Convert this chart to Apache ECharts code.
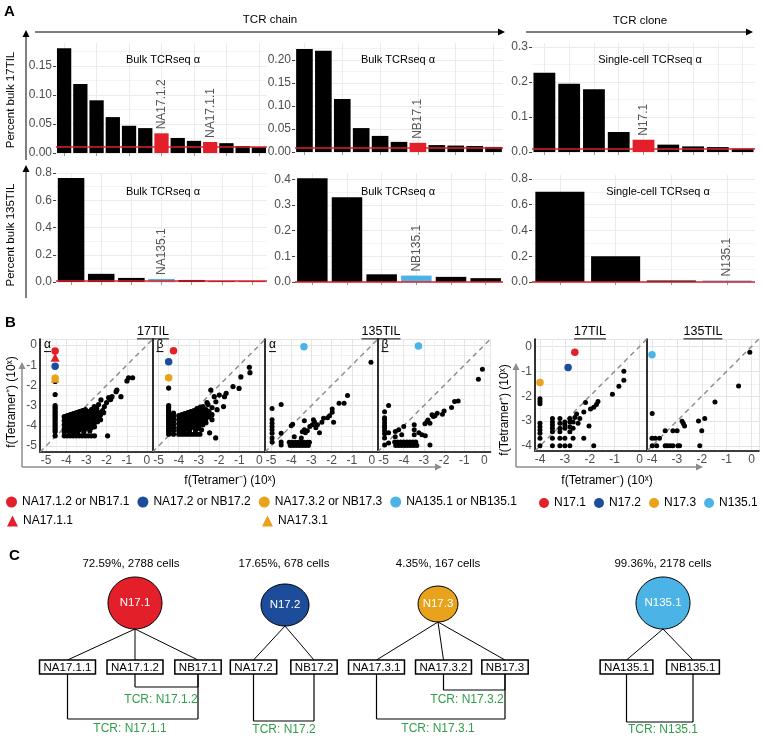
<!DOCTYPE html>
<html><head><meta charset="utf-8">
<script src="https://cdn.jsdelivr.net/npm/echarts@6/dist/echarts.min.js"></script>
<style>html,body{margin:0;padding:0;background:#fff}#c{width:763px;height:740px}</style>
</head><body><div id="c"></div>
<script>
// ---------------- DATA ----------------
// Panel A : clone frequencies (ranked)
const bulk17A = [0.181,0.119,0.091,0.062,0.047,0.043,0.034,0.026,0.021,0.019,0.017,0.012,0.010];
const bulk17ALabels = ['','','','','','','NA17.1.2','','','NA17.1.1','','',''];
const bulk17B = [0.224,0.220,0.115,0.052,0.035,0.022,0.020,0.015,0.014,0.013,0.011];
const bulk17BLabels = ['','','','','','','NB17.1','','','',''];
const sc17 = [0.226,0.195,0.179,0.057,0.035,0.021,0.016,0.014,0.010];
const sc17Labels = ['','','','','N17.1','','','',''];
const bulk135A = [0.763,0.060,0.030,0.022,0.015,0.006,0.005];
const bulk135ALabels = ['','','','NA135.1','','',''];
const bulk135B = [0.405,0.330,0.030,0.025,0.020,0.015];
const bulk135BLabels = ['','','','NB135.1','',''];
const sc135 = [0.700,0.200,0.012,0.012];
const sc135Labels = ['','','','N135.1'];
const aThresholds = [0.010,0.010,0.008,0.005,0.004,0.004];
const aTitles = ['Bulk TCRseq \u03b1','Bulk TCRseq \u03b1','Single-cell TCRseq \u03b1','Bulk TCRseq \u03b1','Bulk TCRseq \u03b1','Single-cell TCRseq \u03b1'];
const aHighlight = ['N17.1','N17.1','N17.1','N135.1','N135.1','N135.1'];
const aYMax = [0.19,0.237,0.311,0.8,0.425,0.83];
const aYTicks = [[0,0.05,0.10,0.15],[0,0.05,0.10,0.15,0.20],[0,0.1,0.2,0.3],[0,0.2,0.4,0.6,0.8],[0,0.1,0.2,0.3,0.4],[0,0.2,0.4,0.6,0.8]];
const aYDec = [2,2,1,1,1,1];

// Panel B : log10 frequencies [f(Tetramer-), f(Tetramer+)]
const b17Alpha = [
[-4.55,-1.8],[-4.55,-2.45],[-4.55,-3.0],[-4.55,-3.1],[-4.55,-3.2],[-4.55,-3.3],[-4.55,-3.4],[-4.55,-3.5],[-4.55,-3.6],[-4.55,-3.7],[-4.55,-3.8],[-4.55,-3.9],[-4.55,-4.0],[-4.55,-4.1],[-4.55,-4.2],[-4.55,-4.3],[-4.55,-4.5],
[-4.1,-4.5],[-3.95,-4.5],[-3.8,-4.5],[-3.65,-4.5],[-3.5,-4.5],[-3.35,-4.5],[-3.2,-4.5],[-3.05,-4.5],[-2.9,-4.5],[-2.75,-4.5],[-2.6,-4.5],[-1.95,-4.5],
[-4.1,-3.55],[-4.1,-3.75],[-4.1,-3.95],[-4.1,-4.15],[-4.1,-4.3],
[-3.95,-3.5],[-3.95,-3.7],[-3.95,-3.9],[-3.95,-4.05],[-3.95,-4.25],
[-3.8,-3.45],[-3.8,-3.65],[-3.8,-3.85],[-3.8,-4.0],[-3.8,-4.2],[-3.8,-4.35],
[-3.65,-3.4],[-3.65,-3.6],[-3.65,-3.8],[-3.65,-3.95],[-3.65,-4.1],[-3.65,-4.3],
[-3.5,-3.35],[-3.5,-3.55],[-3.5,-3.75],[-3.5,-3.9],[-3.5,-4.05],[-3.5,-4.25],
[-3.35,-3.3],[-3.35,-3.5],[-3.35,-3.7],[-3.35,-3.85],[-3.35,-4.0],[-3.35,-4.2],
[-3.2,-3.25],[-3.2,-3.45],[-3.2,-3.65],[-3.2,-3.8],[-3.2,-4.0],[-3.2,-4.15],
[-3.05,-3.2],[-3.05,-3.4],[-3.05,-3.6],[-3.05,-3.8],[-3.05,-3.95],[-3.05,-4.15],
[-2.9,-3.3],[-2.9,-3.5],[-2.9,-3.7],[-2.9,-3.9],[-2.9,-4.1],
[-2.75,-3.2],[-2.75,-3.45],[-2.75,-3.65],[-2.75,-3.9],[-2.75,-4.1],
[-2.6,-3.4],[-2.6,-3.6],[-2.6,-3.85],[-2.6,-4.05],
[-2.45,-3.3],[-2.45,-3.55],[-2.45,-3.8],[-2.3,-3.45],[-2.3,-3.7],[-2.15,-3.35],
[-4.02,-3.65],[-3.88,-3.8],[-3.72,-3.55],[-3.58,-3.7],[-3.42,-3.6],[-3.28,-3.4],[-3.12,-3.55],[-2.98,-3.45],[-2.82,-3.6],[-2.68,-3.3],[-3.58,-4.15],[-3.28,-4.1],[-2.98,-4.05],[-3.88,-4.15],[-4.02,-4.1],
[-4.03,-3.85],[-3.87,-3.6],[-3.73,-4.1],[-3.57,-3.45],[-3.43,-3.8],[-3.27,-3.9],[-3.13,-3.35],[-2.97,-3.75],[-2.83,-3.35],[-2.67,-3.75],[-2.52,-3.45],[-2.38,-3.6],[-3.43,-4.35],[-3.13,-4.3],[-2.83,-4.25],
[-2.61,-3.05],[-2.49,-3.13],[-2.28,-2.72],[-2.11,-3.05],[-1.9,-2.61],[-1.73,-2.56],[-1.53,-2.31],[-1.49,-2.23],[-1.29,-2.56],[-0.99,-1.78],[-0.91,-1.62],[-0.71,-1.62],[-2.4,-2.95],[-2.2,-3.25],[-2.0,-2.85],[-2.7,-3.2],[-2.35,-3.4],[-1.8,-2.7]
];
const b17AlphaHi = [['NA17.1.2 or NB17.1',-4.55,-0.3],['NA17.1.1',-4.55,-0.6],['NA17.2 or NB17.2',-4.55,-1.05],['NA17.3.2 or NB17.3',-4.55,-1.65],['NA17.3.1',-4.55,-1.65]];

const b17Beta = [
[-4.5,-2.13],[-4.5,-3.0],[-4.5,-3.1],[-4.5,-3.2],[-4.5,-3.3],[-4.5,-3.4],[-4.5,-3.5],[-4.5,-3.6],[-4.5,-3.7],[-4.5,-3.8],[-4.5,-3.9],[-4.5,-4.0],[-4.5,-4.1],[-4.5,-4.2],[-4.5,-4.3],[-4.5,-4.42],
[-4.26,-3.37],[-4.26,-3.5],[-4.26,-3.65],[-4.26,-3.8],[-4.26,-3.95],[-4.26,-4.1],[-4.26,-4.25],[-4.26,-4.42],
[-4.0,-4.42],[-3.85,-4.42],[-3.7,-4.42],[-3.55,-4.42],[-3.4,-4.42],[-3.25,-4.42],[-3.1,-4.42],[-2.95,-4.42],[-2.47,-4.35],[-2.17,-4.6],
[-4.0,-3.5],[-4.0,-3.7],[-4.0,-3.9],[-4.0,-4.1],[-4.0,-4.25],
[-3.85,-3.45],[-3.85,-3.65],[-3.85,-3.85],[-3.85,-4.05],[-3.85,-4.2],
[-3.7,-3.4],[-3.7,-3.6],[-3.7,-3.8],[-3.7,-4.0],[-3.7,-4.2],
[-3.55,-3.35],[-3.55,-3.55],[-3.55,-3.75],[-3.55,-3.95],[-3.55,-4.15],
[-3.4,-3.3],[-3.4,-3.5],[-3.4,-3.7],[-3.4,-3.9],[-3.4,-4.1],
[-3.25,-3.25],[-3.25,-3.45],[-3.25,-3.65],[-3.25,-3.85],[-3.25,-4.05],
[-3.1,-3.15],[-3.1,-3.35],[-3.1,-3.55],[-3.1,-3.75],[-3.1,-3.95],[-3.1,-4.15],
[-2.95,-3.1],[-2.95,-3.3],[-2.95,-3.5],[-2.95,-3.7],[-2.95,-3.9],
[-2.8,-3.05],[-2.8,-3.25],[-2.8,-3.45],[-2.8,-3.7],[-2.8,-3.95],
[-2.65,-3.2],[-2.65,-3.4],[-2.65,-3.65],[-2.65,-3.85],
[-2.5,-3.3],[-2.5,-3.55],[-2.35,-3.45],[-2.35,-3.7],
[-3.92,-3.6],[-3.78,-3.75],[-3.62,-3.5],[-3.48,-3.65],[-3.32,-3.4],[-3.18,-3.6],[-3.02,-3.4],[-2.88,-3.6],[-2.72,-3.35],[-3.62,-4.1],[-3.32,-4.0],[-3.02,-4.05],
[-3.93,-3.8],[-3.77,-3.95],[-3.63,-3.7],[-3.47,-3.85],[-3.33,-3.6],[-3.17,-3.8],[-3.03,-3.6],[-2.87,-3.8],[-2.73,-3.55],[-2.58,-3.4],[-3.47,-4.25],[-3.17,-4.25],[-2.87,-4.2],
[-2.41,-2.23],[-2.24,-2.56],[-2.16,-2.81],[-1.99,-2.48],[-1.73,-2.56],[-1.65,-2.39],[-1.78,-3.05],[-1.31,-2.06],[-1.01,-2.15],[-0.92,-1.58],[-0.5,-1.1],[-0.47,-1.37],[-2.55,-2.95],[-2.35,-3.1],[-2.1,-3.2],[-2.6,-2.85]
];
const b17BetaHi = [['NA17.1.2 or NB17.1',-4.26,-0.28],['NA17.2 or NB17.2',-4.5,-0.83],['NA17.3.2 or NB17.3',-4.5,-1.62]];

const b135Alpha = [
[-0.05,-0.85],[-4.95,-3.15],[-4.5,-2.95],
[-4.95,-3.7],[-4.95,-3.87],[-4.95,-4.04],[-4.95,-4.2],[-4.95,-4.37],[-4.95,-4.6],[-4.95,-4.8],
[-4.5,-4.37],[-4.5,-4.8],[-4.5,-4.95],[-4.0,-4.0],[-3.93,-3.93],[-3.85,-4.55],
[-4.1,-4.82],[-3.95,-4.82],[-3.8,-4.82],[-3.65,-4.82],[-3.5,-4.82],[-3.35,-4.82],[-3.2,-4.82],[-3.1,-4.82],
[-4.05,-4.98],[-3.9,-4.98],[-3.75,-4.98],[-3.6,-4.98],[-3.45,-4.98],[-3.3,-4.98],[-3.15,-4.98],
[-3.35,-3.75],[-3.45,-4.3],[-3.35,-4.2],[-3.3,-4.35],[-3.2,-4.25],[-3.5,-4.6],
[-3.08,-4.04],[-2.95,-3.95],[-2.78,-4.1],[-2.7,-3.95],[-2.48,-3.83],[-2.4,-3.63],[-2.6,-4.35],[-2.9,-3.7],[-2.85,-3.8],
[-2.2,-3.6],[-2.1,-3.5],[-1.97,-3.33],[-1.97,-3.17],[-1.9,-3.83],[-1.63,-2.89],[-1.38,-2.89],[-1.21,-2.5]
];
const b135AlphaHi = [['NA135.1 or NB135.1',-3.37,-0.08]];

const b135Beta = [
[-0.1,-1.2],[-0.3,-1.7],[-4.75,-3.0],[-4.95,-3.3],
[-4.95,-3.6],[-4.95,-3.7],[-4.95,-3.85],[-4.95,-4.0],[-4.95,-4.1],[-4.95,-4.25],[-4.95,-4.4],[-4.95,-4.6],[-4.95,-4.95],
[-4.75,-4.35],[-4.75,-4.85],
[-4.45,-4.8],[-4.3,-4.8],[-4.15,-4.8],[-4.0,-4.8],[-3.85,-4.8],[-3.7,-4.8],[-3.55,-4.8],[-3.4,-4.8],
[-4.4,-4.98],[-4.25,-4.98],[-4.1,-4.98],[-3.95,-4.98],[-3.8,-4.98],[-3.65,-4.98],[-3.5,-4.98],[-3.35,-4.98],
[-4.42,-4.29],[-4.25,-4.2],[-4.0,-4.04],[-4.1,-4.45],[-4.42,-4.55],
[-3.48,-3.95],[-3.48,-4.2],[-3.48,-4.45],[-3.25,-4.35],[-3.1,-4.45],[-2.93,-4.5],[-2.7,-4.95],
[-2.8,-3.71],[-2.7,-3.87],[-2.6,-3.46],[-2.53,-3.54],[-2.45,-3.5],[-2.34,-3.38],[-2.08,-3.43],[-2.0,-3.27],[-1.63,-3.1],[-1.48,-2.8],[-1.3,-2.77],[-2.95,-3.9],[-2.85,-3.8]
];
const b135BetaHi = [['NA135.1 or NB135.1',-3.27,-0.05]];

const b17Clone = [
[-4,-2.1],[-4,-2.2],[-4,-2.3],[-4,-3.09],[-4,-3.23],[-4,-3.36],[-4,-3.49],[-4,-3.69],[-4,-3.99],
[-3.5,-2.89],[-3.5,-3.03],[-3.5,-3.16],[-3.5,-3.29],[-3.5,-3.43],[-3.5,-3.69],[-3.5,-3.99],
[-3.2,-2.89],[-3.2,-3.09],[-3.2,-3.29],[-3.2,-3.43],[-3.2,-3.69],[-3.2,-3.99],
[-3.0,-3.03],[-3.0,-3.16],[-3.0,-3.29],[-3.0,-3.69],[-3.0,-3.99],
[-2.8,-2.89],[-2.8,-3.03],[-2.8,-3.23],[-2.8,-3.43],[-2.8,-3.99],
[-2.67,-3.03],[-2.67,-3.29],[-2.67,-3.69],
[-2.4,-2.89],[-2.47,-3.09],[-2.03,-3.2],[-2.24,-3.69],[-1.84,-3.99],
[-2.24,-2.63],[-2.17,-2.25],[-1.97,-2.51],[-1.84,-2.44],[-1.73,-2.33],[-1.67,-2.21],[-1.09,-1.92],[-0.83,-1.6],[-0.63,-1.36],[-0.63,-1.0],
[-2.53,-2.71],[-2.6,-2.85]
];
const b17CloneHi = [['N17.1',-2.6,-0.23],['N17.2',-2.87,-0.85],['N17.3',-4.0,-1.45]];

const b135Clone = [
[-0.07,-0.23],[-0.52,-1.59],[-1.47,-2.23],[-1.88,-2.89],[-2.13,-2.99],[-2.0,-3.39],[-2.08,-3.99],
[-2.79,-3.0],[-2.74,-3.1],[-2.69,-3.2],[-3.16,-3.39],[-2.99,-3.39],[-3.47,-3.39],
[-3.99,-2.69],[-4.0,-3.69],[-3.87,-3.69],[-3.7,-3.69],
[-3.99,-3.99],[-3.81,-3.99],[-3.47,-3.99],[-3.38,-3.99],[-3.27,-3.99],[-3.16,-3.99],[-2.96,-3.99],[-2.89,-3.99]
];
const b135CloneHi = [['N135.1',-4.0,-0.33]];

// Panel C : clone -> chains -> paired TCRs
const cClones = ['N17.1','N17.2','N17.3','N135.1'];
const cPercent = ['72.59%','17.65%','4.35%','99.36%'];
const cCells = [2788,678,167,2178];
const cChains = [['NA17.1.1','NA17.1.2','NB17.1'],['NA17.2','NB17.2'],['NA17.3.1','NA17.3.2','NB17.3'],['NA135.1','NB135.1']];
const cTcrs = [['N17.1.2','N17.1.1'],['N17.2'],['N17.3.2','N17.3.1'],['N135.1']];
const cTcrPairs = [[[1,2],[0,2]],[[0,1]],[[1,2],[0,2]],[[0,1]]];

// ---------------- STYLE / LAYOUT ----------------
const FONT = "'Liberation Sans', Arial, Helvetica, sans-serif";
const RED='#E3202A', BLUE='#1C4C9A', ORANGE='#E8A21B', LBLUE='#4BB3E6', GREEN='#2F9F4A';
const cloneColor = {'N17.1':RED,'N17.2':BLUE,'N17.3':ORANGE,'N135.1':LBLUE};
const nameColor = {'NA17.1.2 or NB17.1':RED,'NA17.1.1':RED,'NA17.2 or NB17.2':BLUE,'NA17.3.2 or NB17.3':ORANGE,'NA17.3.1':ORANGE,'NA135.1 or NB135.1':LBLUE,'N17.1':RED,'N17.2':BLUE,'N17.3':ORANGE,'N135.1':LBLUE};
const triNames = ['NA17.1.1','NA17.3.1'];

const barGrids = [
 {left:56, top:43, width:211, height:110},
 {left:295, top:43, width:208, height:109},
 {left:532, top:43, width:223, height:109},
 {left:56, top:173, width:211, height:109},
 {left:295, top:173, width:208, height:109},
 {left:532, top:175, width:223, height:107}
];
const aTitlePos = [[163,60],[398,60],[650,60],[163,192],[398,192],[658,192]];
const barSets = [[bulk17A,bulk17ALabels],[bulk17B,bulk17BLabels],[sc17,sc17Labels],[bulk135A,bulk135ALabels],[bulk135B,bulk135BLabels],[sc135,sc135Labels]];

const scatGrids = [
 {left:40, top:339, width:113, height:113, lo:-5.3, hi:0.3, ylab:true, ps:5.2},
 {left:152.5, top:339, width:113, height:113, lo:-5.3, hi:0.3, ylab:false, ps:5.2},
 {left:265, top:339, width:113, height:113, lo:-5.3, hi:0.3, ylab:false, ps:5},
 {left:377.5, top:339, width:113, height:113, lo:-5.3, hi:0.3, ylab:false, ps:5},
 {left:535, top:339, width:112, height:112, lo:-4.2, hi:0.3, ylab:true, ps:5},
 {left:647, top:339, width:112, height:112, lo:-4.2, hi:0.3, ylab:false, ps:5}
];
const scatSets = [[b17Alpha,b17AlphaHi],[b17Beta,b17BetaHi],[b135Alpha,b135AlphaHi],[b135Beta,b135BetaHi],[b17Clone,b17CloneHi],[b135Clone,b135CloneHi]];

const grid=[], xAxis=[], yAxis=[], series=[];

barSets.forEach(([vals,labels],i)=>{
  const g = barGrids[i];
  grid.push({left:g.left, top:g.top, width:g.width, height:g.height});
  const cats = vals.map((v,j)=>'r'+(j+1));
  const ticks = aYTicks[i], dec = aYDec[i];
  const isTick = v => ticks.some(t=>Math.abs(t-v)<1e-9);
  xAxis.push({type:'category', gridIndex:i, data:cats, boundaryGap:true,
    axisLine:{show:false}, axisLabel:{show:false},
    axisTick:{show:true, alignWithLabel:true, length:3, lineStyle:{color:'#999'}},
    splitLine:{show:true, alignWithLabel:true, lineStyle:{color:'#EBEBEB'}}});
  yAxis.push({type:'value', gridIndex:i, min:0, max:aYMax[i], interval:ticks[1],
    axisLine:{show:false},
    axisTick:{show:true, length:3, customValues:ticks, lineStyle:{color:'#444'}},
    axisLabel:{color:'#4D4D4D', fontSize:12, fontFamily:FONT, margin:4, customValues:ticks,
      formatter:v=>isTick(v) ? v.toFixed(dec) : ''},
    splitLine:{lineStyle:{color:'#EBEBEB'}},
    minorTick:{show:false, splitNumber:2}, minorSplitLine:{show:true, lineStyle:{color:'#F4F4F4'}}});
  series.push({type:'bar', xAxisIndex:i, yAxisIndex:i, barCategoryGap:'12%', z:2,
    data: vals.map((v,j)=>({value:v, itemStyle:{color: labels[j] ? cloneColor[aHighlight[i]] : '#000'},
      label:{show: !!labels[j], formatter: labels[j]}})),
    label:{position:'top', rotate:90, align:'left', verticalAlign:'middle', distance:4, color:'#555', fontSize:12, fontFamily:FONT},
    markLine:{silent:true, symbol:['none','none'], label:{show:false}, lineStyle:{color:RED, width:1.6, type:'solid'},
      data:[{yAxis:aThresholds[i]}]}
  });
});

const intFmt = v => Math.abs(v-Math.round(v))<1e-6 ? String(Math.round(v)) : '';
scatSets.forEach(([pts,hi],k)=>{
  const i = k+6, g = scatGrids[k];
  grid.push({left:g.left, top:g.top, width:g.width, height:g.height});
  const ax = (show)=>({type:'value', gridIndex:i, min:g.lo, max:g.hi, splitNumber:5,
    axisLine:{show:true, onZero:false, lineStyle:{color:'#000', width:1.6}},
    axisTick:{show:false},
    axisLabel:{show:show, color:'#4D4D4D', fontSize:12, fontFamily:FONT, margin:3, formatter:intFmt},
    splitLine:{lineStyle:{color:'#E4E4E4'}},
    minorTick:{show:false, splitNumber:2}, minorSplitLine:{show:true, lineStyle:{color:'#F1F1F1'}}});
  xAxis.push(ax(true));
  yAxis.push(ax(g.ylab));
  series.push({type:'scatter', xAxisIndex:i, yAxisIndex:i, data:pts, symbolSize:g.ps, itemStyle:{color:'#000', opacity:1}, z:3,
    markLine:{silent:true, symbol:['none','none'], label:{show:false}, z:2,
      lineStyle:{color:'#8A8A8A', width:1.4, type:[5,4]},
      data:[[{coord:[g.lo,g.lo]},{coord:[g.hi,g.hi]}]]}});
  hi.forEach(([name,x,y])=>{
    const tri = triNames.includes(name);
    series.push({type:'scatter', name, xAxisIndex:i, yAxisIndex:i, data:[[x,y]], z: tri?6:5,
      symbol: tri?'triangle':'circle', symbolSize: tri?9:7.5, itemStyle:{color:nameColor[name], opacity:1}});
  });
});

// ---------------- GRAPHIC ANNOTATIONS ----------------
const mctx = document.createElement('canvas').getContext('2d');
function tw(t,size){ mctx.font = size+'px '+FONT; return mctx.measureText(t).width; }
const G=[];
function txt(x,y,text,o){ o=o||{};
  G.push({type:'text', x, y, rotation:o.rot||0, z:50, silent:true,
    style:{text, fill:o.color||'#000', fontSize:o.size||12, fontFamily:FONT, fontWeight:o.bold?'bold':'normal',
      align:o.align||'center', verticalAlign:o.va||'middle', textAlign:o.align||'center', textVerticalAlign:o.va||'middle'}}); }
function ln(x1,y1,x2,y2,color,w){ G.push({type:'line', z:50, silent:true, shape:{x1,y1,x2,y2}, style:{stroke:color||'#000', lineWidth:w||1}}); }
function poly(points,fill){ G.push({type:'polygon', z:50, silent:true, shape:{points}, style:{fill}}); }
function arrowR(x1,x2,y,c,w){ ln(x1,y,x2-5,y,c,w); poly([[x2,y],[x2-7,y-3.5],[x2-7,y+3.5]],c); }
function arrowU(x,y1,y2,c,w){ ln(x,y1,x,y2+5,c,w); poly([[x,y2],[x-3.5,y2+7],[x+3.5,y2+7]],c); }
function underlined(x,y,text,size,align){
  txt(x,y,text,{size,align});
  const w = tw(text,size);
  const x0 = align==='left' ? x : x-w/2;
  ln(x0,y+size*0.55,x0+w,y+size*0.55,'#000',1);
}

// Panel A
txt(4,12,'A',{bold:true,size:15,align:'left'});
txt(270,20,'TCR chain',{size:11.5});
arrowR(35,505,32,'#000',1);
txt(640,21,'TCR clone',{size:11.5});
arrowR(526,753,32,'#000',1);
arrowU(26,160,30,'#000',1);
arrowU(26,298,165,'#000',1);
txt(11,100,'Percent bulk 17TIL',{rot:Math.PI/2,size:11.5});
txt(11,235,'Percent bulk 135TIL',{rot:Math.PI/2,size:11.5});
aTitles.forEach((t,i)=>txt(aTitlePos[i][0],aTitlePos[i][1],t,{size:11}));

// Panel B
txt(5,323,'B',{bold:true,size:15,align:'left'});
const GRAY='#8C8C8C';
arrowU(22,467,362,GRAY,1.5); arrowR(22,442,467,GRAY,1.5);
arrowU(516,467,363,GRAY,1.5); arrowR(516,703,467,GRAY,1.5);
txt(230,481,'f(Tetramer\u207B) (10\u02E3)',{size:12});
txt(12,402,'f(Tetramer\u207A) (10\u02E3)',{rot:Math.PI/2,size:12});
txt(607,481,'f(Tetramer\u207B) (10\u02E3)',{size:12});
txt(505,410,'f(Tetramer\u207A) (10\u02E3)',{rot:Math.PI/2,size:12});
underlined(153,332,'17TIL',12.5);
underlined(381,332,'135TIL',12.5);
underlined(590,332,'17TIL',12.5);
underlined(703,332,'135TIL',12.5);
const chainTags = ['\u03b1','\u03b2','\u03b1','\u03b2'];
chainTags.forEach((t,k)=>underlined(scatGrids[k].left+4,345,t,12,'left'));

// Panel C
txt(9,556,'C',{bold:true,size:15,align:'left'});
const cPos = [
 {tx:131, cx:135, cy:603, rx:27, ry:26, bx:[67.5,135,198], by:[687,719], lx:[161,130], ly:[700,729]},
 {tx:284, cx:285, cy:605, rx:24, ry:21, bx:[253.5,314], by:[721], lx:[284], ly:[730]},
 {tx:438, cx:438, cy:604, rx:20, ry:18, bx:[376.5,443.5,505], by:[690,719], lx:[467,438], ly:[700,729]},
 {tx:663, cx:663, cy:603, rx:27, ry:26, bx:[626.5,693], by:[722], lx:[663], ly:[730]}
];
const BOXY = 667, BOXH = 14;
cClones.forEach((cl,i)=>{
  const p = cPos[i];
  txt(p.tx,564,cPercent[i]+', '+cCells[i]+' cells',{size:11.5});
  p.bx.forEach(x=>ln(p.cx,p.cy+p.ry,x,BOXY-BOXH/2,'#000',1));
  G.push({type:'ellipse', z:51, silent:true, shape:{cx:p.cx, cy:p.cy, rx:p.rx, ry:p.ry}, style:{fill:cloneColor[cl], stroke:'#000', lineWidth:1}});
  txt(p.cx,p.cy,cl,{size:11.5,color:'#fff'});
  G[G.length-1].z = 52;
  cChains[i].forEach((ch,j)=>{
    const w = tw(ch,11.5)+8;
    G.push({type:'rect', z:51, silent:true, shape:{x:p.bx[j]-w/2, y:BOXY-BOXH/2, width:w, height:BOXH}, style:{fill:'#fff', stroke:'#000', lineWidth:1.5}});
    txt(p.bx[j],BOXY+0.5,ch,{size:11.5}); G[G.length-1].z = 52;
  });
  cTcrs[i].forEach((t,k)=>{
    const [a,b] = cTcrPairs[i][k];
    const xa=p.bx[a], xb=p.bx[b], yb=p.by[k], y0=BOXY+BOXH/2;
    ln(xa,y0,xa,yb,'#000',1.2); ln(xa,yb,xb,yb,'#000',1.2); ln(xb,y0,xb,yb,'#000',1.2);
    txt(p.lx[k],p.ly[k],'TCR: '+t,{size:12,color:GREEN});
  });
});

// ---------------- LEGENDS ----------------
const legBase = {orient:'horizontal', padding:0, itemGap:8, itemWidth:11, itemHeight:11, selectedMode:false,
  itemStyle:{opacity:1}, textStyle:{fontSize:12, color:'#000', fontFamily:FONT}};
const legend = [
  Object.assign({}, legBase, {left:6, top:496, data:['NA17.1.2 or NB17.1','NA17.2 or NB17.2','NA17.3.2 or NB17.3','NA135.1 or NB135.1'].map(n=>({name:n, icon:'circle'}))}),
  Object.assign({}, legBase, {left:7, top:515, data:[{name:'NA17.1.1', icon:'triangle'}]}),
  Object.assign({}, legBase, {left:262, top:515, data:[{name:'NA17.3.1', icon:'triangle'}]}),
  Object.assign({}, legBase, {left:539, top:497, itemWidth:10, itemHeight:10, data:['N17.1','N17.2','N17.3','N135.1'].map(n=>({name:n, icon:'circle'}))})
];

const chart = echarts.init(document.getElementById('c'), null, {renderer:'canvas'});
chart.setOption({
  animation:false, backgroundColor:'#fff',
  textStyle:{fontFamily:FONT},
  grid, xAxis, yAxis, series, legend, graphic:{elements:G}
});
</script></body></html>
